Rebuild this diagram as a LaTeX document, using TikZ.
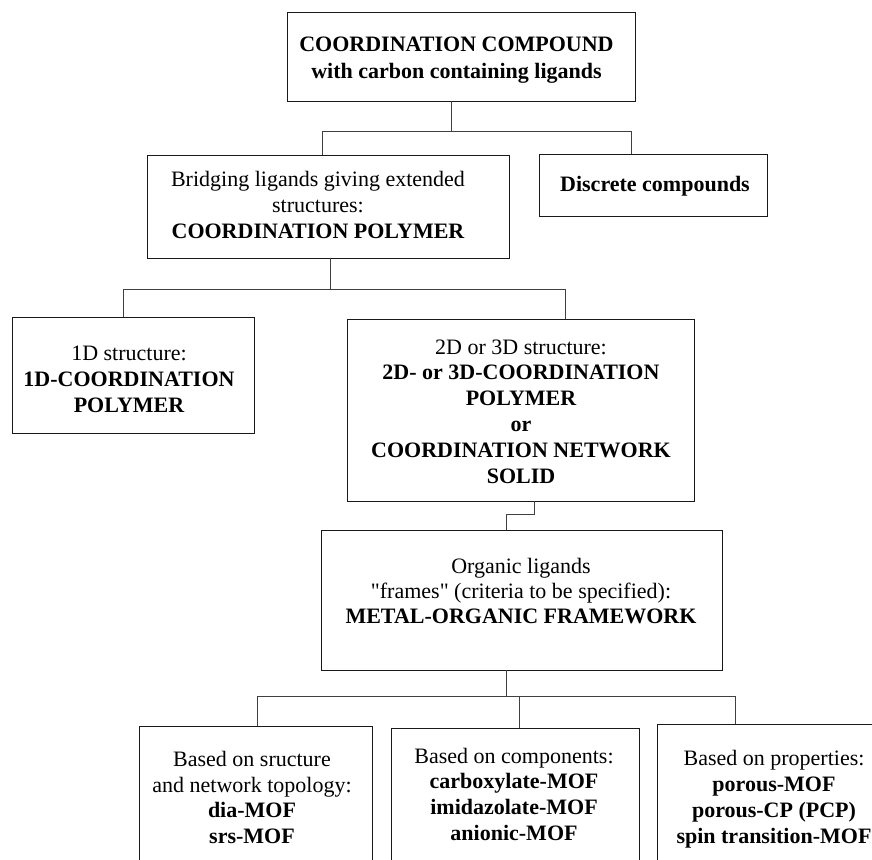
\documentclass[tikz,border=0pt]{standalone}
\usepackage{fontspec}
\setmainfont{Liberation Serif}[Ligatures=TeXOff]
\begin{document}
\begin{tikzpicture}[x=1pt,y=-1pt,
  box/.style={draw=black!90,line width=1pt,rectangle,inner sep=0pt,outer sep=0pt},
  conn/.style={draw=black!75,line width=1pt},
  txt/.style={anchor=base,inner sep=0pt,font=\fontsize{22}{26}\selectfont},
  btxt/.style={txt,font=\fontsize{22}{26}\selectfont\bfseries}]
\clip (0,0) rectangle (872,859);
\fill[white] (0,0) rectangle (872,859);

% boxes
\node[box,minimum width=348pt,minimum height=88pt] (top) at (461,57) {};
\node[box,minimum width=362pt,minimum height=103pt] (bridge) at (328,206.5) {};
\node[box,minimum width=228pt,minimum height=62pt] (discrete) at (653,185) {};
\node[box,minimum width=242pt,minimum height=116pt] (oned) at (133,375) {};
\node[box,minimum width=347pt,minimum height=182pt] (twod) at (520.5,410) {};
\node[box,minimum width=401pt,minimum height=140pt] (org) at (521.5,600) {};
\node[box,minimum width=233pt,minimum height=160pt] (bl) at (255.5,806) {};
\node[box,minimum width=248pt,minimum height=160pt] (bm) at (515,808) {};
\node[box,minimum width=243pt,minimum height=160pt] (br) at (778.5,804) {};

% connectors
\coordinate (t1) at (451,131);
\coordinate (l1) at (322,131);
\coordinate (r1) at (631,131);
\draw[conn] (top.south -| t1) -- (t1);
\draw[conn] (bridge.north -| l1) -- (l1) -- (r1) -- (discrete.north -| r1);

\coordinate (t2) at (330,289);
\coordinate (l2) at (123,289);
\coordinate (r2) at (565,289);
\draw[conn] (bridge.south -| t2) -- (t2);
\draw[conn] (oned.north -| l2) -- (l2) -- (r2) -- (twod.north -| r2);

\coordinate (t3) at (534,514);
\coordinate (l3) at (506,514);
\draw[conn] (twod.south -| t3) -- (t3) -- (l3) -- (org.north -| l3);

\coordinate (t4) at (506,696);
\coordinate (l4) at (257,696);
\coordinate (m4) at (519,696);
\coordinate (r4) at (735,696);
\draw[conn] (org.south -| t4) -- (t4);
\draw[conn] (bl.north -| l4) -- (l4) -- (r4) -- (br.north -| r4);
\draw[conn] (m4) -- (bm.north -| m4);

% texts
\node[btxt] (top1) at (456.5,52) {COORDINATION COMPOUND};
\node[btxt] (top2) at (456.5,78) {with carbon containing ligands};

\node[txt] (br1) at (318,186) {Bridging ligands giving extended};
\node[txt] (br2) at (318,212) {structures:};
\node[btxt] (br3) at (318,238) {COORDINATION POLYMER};

\node[btxt] (dc1) at (655,191) {Discrete compounds};

\node[txt] (od1) at (129,360) {1D structure:};
\node[btxt] (od2) at (129,386) {1D-COORDINATION};
\node[btxt] (od3) at (129,412) {POLYMER};

\node[txt] (td1) at (521,354) {2D or 3D structure:};
\node[btxt] (td2) at (521,379.8) {2D- or 3D-COORDINATION};
\node[btxt] (td3) at (521,405.6) {POLYMER};
\node[btxt] (td4) at (521,431.4) {or};
\node[btxt] (td5) at (521,457.2) {COORDINATION NETWORK};
\node[btxt] (td6) at (521,483) {SOLID};

\node[txt] (og1) at (521,573) {Organic ligands};
\node[txt] (og2) at (521,598) {"frames" (criteria to be specified):};
\node[btxt] (og3) at (521,623) {METAL-ORGANIC FRAMEWORK};

\node[txt] (bl1) at (252,766) {Based on sructure};
\node[txt] (bl2) at (252,792) {and network topology:};
\node[btxt] (bl3) at (252,817) {dia-MOF};
\node[btxt] (bl4) at (252,843) {srs-MOF};

\node[txt] (bm1) at (514,763) {Based on components:};
\node[btxt] (bm2) at (514,788) {carboxylate-MOF};
\node[btxt] (bm3) at (514,814) {imidazolate-MOF};
\node[btxt] (bm4) at (514,840) {anionic-MOF};

\node[txt] (bt1) at (774,765) {Based on properties:};
\node[btxt] (bt2) at (774,791) {porous-MOF};
\node[btxt] (bt3) at (774,817) {porous-CP (PCP)};
\node[btxt] (bt4) at (774,843) {spin transition-MOF};
\end{tikzpicture}
\end{document}
